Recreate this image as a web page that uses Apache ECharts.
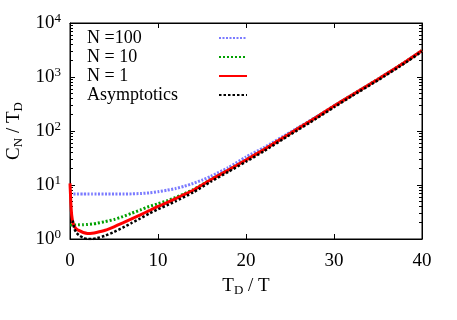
<!DOCTYPE html>
<html>
<head>
<meta charset="utf-8">
<script src="https://cdn.jsdelivr.net/npm/echarts@6/dist/echarts.min.js"></script>
<style>
  html, body { margin: 0; padding: 0; background: #fff; }
  #chart { width: 457px; height: 320px; }
</style>
</head>
<body>
<div id="chart"></div>
<script>
// T_D / T sampling shared by the three N curves
var tdOverT = [0, 0.05, 0.1, 0.2, 0.35, 0.5, 0.75, 1, 1.5, 2, 2.5, 3, 4, 5, 6, 7, 8, 9, 10,
  11, 12, 13, 14, 15, 16, 18, 20, 22, 25, 28, 30, 32, 35, 38, 40];
var n100 = [6.8, 6.8, 6.8, 6.8, 6.8, 6.8, 6.8, 6.8, 6.8, 6.8, 6.8, 6.8, 6.8, 6.8, 6.8, 6.85, 6.95, 7.15, 7.5,
  8.0, 8.6, 9.5, 10.7, 12.3, 14.5, 21, 33, 49, 94, 183, 292, 462, 912, 1850, 3090];
var n10 = [1.82, 1.82, 1.82, 1.82, 1.82, 1.82, 1.82, 1.83, 1.84, 1.86, 1.9, 1.95, 2.1, 2.3, 2.6, 3.0, 3.45, 4.0, 4.5,
  5.1, 5.9, 6.9, 8.2, 10.1, 12.6, 19, 29, 45, 90, 180, 290, 460, 910, 1850, 3090];
var n1 = [10.7, 7.0, 4.5, 2.7, 1.95, 1.7, 1.52, 1.44, 1.32, 1.27, 1.28, 1.32, 1.45, 1.68, 1.98, 2.35, 2.8, 3.35, 4.0,
  4.7, 5.6, 6.7, 8.0, 10.0, 12.5, 19, 29, 45, 90, 180, 290, 460, 910, 1850, 3090];
// asymptotic curve
var tdOverTAsym = [0.3, 0.5, 0.75, 1, 1.5, 2, 2.5, 3, 4, 5, 6, 7, 8, 9, 10, 11, 12, 14, 16, 18, 20,
  22, 25, 28, 30, 32, 35, 38, 40];
var asym = [2.2, 1.55, 1.3, 1.18, 1.05, 1.0, 1.0, 1.03, 1.15, 1.35, 1.62, 1.98, 2.4, 2.95, 3.55, 4.2, 5.0, 7.3, 11.5, 17.6, 27,
  42, 85, 170, 275, 440, 870, 1780, 2980];

var xTicks = [0, 10, 20, 30, 40];
var yMajor = [1, 10, 100, 1000, 10000];
var yMinor = [];
for (var d = 0; d < 4; d++) {
  for (var k = 2; k <= 9; k++) yMinor.push(k * Math.pow(10, d));
}

function pairs(xs, ys) {
  return xs.map(function (x, i) { return [x, ys[i]]; });
}

var serif = 'Liberation Serif';
var chart = echarts.init(document.getElementById('chart'));

var yBase = { type: 'log', logBase: 10, min: 1, max: 10000, splitLine: { show: false } };
var xBase = { type: 'value', min: 0, max: 40, interval: 10, splitLine: { show: false } };

var option = {
  animation: false,
  backgroundColor: '#fff',
  grid: {
    left: 70, right: 35, top: 23, bottom: 81, outerBoundsMode: 'none',
    show: true, borderColor: '#000', borderWidth: 1
  },
  legend: {
    left: 82, top: 24, orient: 'vertical', align: 'right',
    itemWidth: 28, itemHeight: 10, itemGap: 1,
    selectedMode: false,
    itemStyle: { color: 'rgba(0,0,0,0)', borderWidth: 0, opacity: 0 },
    formatter: function (name) { return '{t|' + name + '}'; },
    textStyle: {
      rich: { t: { fontFamily: serif, fontSize: 18, color: '#000', width: 127, align: 'left', lineHeight: 19 } }
    },
    data: ['N =100', 'N = 10', 'N = 1', 'Asymptotics']
  },
  xAxis: [
    Object.assign({}, xBase, {
      position: 'bottom',
      axisLine: { lineStyle: { color: '#000' } },
      axisTick: { inside: true, length: 5, customValues: xTicks, lineStyle: { color: '#000' } },
      axisLabel: { customValues: xTicks, color: '#000', fontFamily: serif, fontSize: 19, margin: 13 },
      name: '{a|T}{s|D}{a| / T}',
      nameLocation: 'middle', nameGap: 36,
      nameTextStyle: {
        rich: {
          a: { fontFamily: serif, fontSize: 19, color: '#000', lineHeight: 22 },
          s: { fontFamily: serif, fontSize: 13, color: '#000', verticalAlign: 'bottom', lineHeight: 13 }
        }
      }
    }),
    Object.assign({}, xBase, {
      position: 'top',
      axisLine: { lineStyle: { color: '#000' } },
      axisTick: { inside: true, length: 5, customValues: xTicks, lineStyle: { color: '#000' } },
      axisLabel: { show: false }
    })
  ],
  yAxis: [
    Object.assign({}, yBase, {
      position: 'left',
      axisLine: { show: true, lineStyle: { color: '#000' } },
      axisTick: { show: true, inside: true, length: 5, customValues: yMajor, lineStyle: { color: '#000' } },
      axisLabel: {
        customValues: yMajor, margin: 9,
        formatter: function (v) { return '{b|10}{s|' + Math.round(Math.log10(v)) + '}'; },
        rich: {
          b: { fontFamily: serif, fontSize: 19, color: '#000', lineHeight: 22 },
          s: { fontFamily: serif, fontSize: 13, color: '#000', verticalAlign: 'top', lineHeight: 13 }
        }
      },
      name: '{a|C}{s|N}{a| / T}{s|D}',
      nameLocation: 'middle', nameGap: 34, nameRotate: 90,
      nameTextStyle: {
        rich: {
          a: { fontFamily: serif, fontSize: 19, color: '#000', lineHeight: 22 },
          s: { fontFamily: serif, fontSize: 13, color: '#000', verticalAlign: 'bottom', lineHeight: 13 }
        }
      }
    }),
    Object.assign({}, yBase, {
      position: 'left',
      axisLine: { show: false },
      axisTick: { show: true, inside: true, length: 3, customValues: yMinor, lineStyle: { color: '#000' } },
      axisLabel: { show: false }
    }),
    Object.assign({}, yBase, {
      position: 'right',
      axisLine: { show: true, lineStyle: { color: '#000' } },
      axisTick: { show: true, inside: true, length: 5, customValues: yMajor, lineStyle: { color: '#000' } },
      axisLabel: { show: false }
    }),
    Object.assign({}, yBase, {
      position: 'right',
      axisLine: { show: false },
      axisTick: { show: true, inside: true, length: 3, customValues: yMinor, lineStyle: { color: '#000' } },
      axisLabel: { show: false }
    })
  ],
  series: [
    {
      name: 'N =100', type: 'line', data: pairs(tdOverT, n100), symbol: 'none', smooth: 0.2,
      color: '#7b7bff', lineStyle: { width: 3, type: [2, 1.5], color: '#7b7bff' }
    },
    {
      name: 'N = 10', type: 'line', data: pairs(tdOverT, n10), symbol: 'none', smooth: 0.2,
      color: '#00a000', lineStyle: { width: 3, type: [2, 2], color: '#00a000' }
    },
    {
      name: 'N = 1', type: 'line', data: pairs(tdOverT, n1), symbol: 'none', smooth: 0.2,
      color: '#ff0000', lineStyle: { width: 3, color: '#ff0000' }
    },
    {
      name: 'Asymptotics', type: 'line', data: pairs(tdOverTAsym, asym), symbol: 'none', smooth: 0.2,
      color: '#000', lineStyle: { width: 2.5, type: [2.5, 2], color: '#000' }
    }
  ]
};

chart.setOption(option);
</script>
</body>
</html>
